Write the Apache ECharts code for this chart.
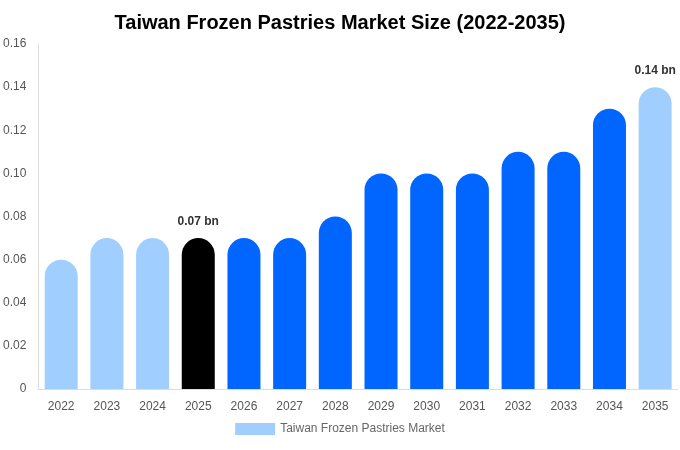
<!DOCTYPE html>
<html><head><meta charset="utf-8">
<script src="https://cdn.jsdelivr.net/npm/echarts@6/dist/echarts.min.js"></script>
<style>html,body{margin:0;padding:0}#c{width:680px;height:450px}</style>
</head><body><div id="c"></div>
<script>
const categories = ['2022','2023','2024','2025','2026','2027','2028','2029','2030','2031','2032','2033','2034','2035'];
const values = [0.06,0.07,0.07,0.07,0.07,0.07,0.08,0.10,0.10,0.10,0.11,0.11,0.13,0.14];
const colors = ['#a0cfff','#a0cfff','#a0cfff','#000000','#0066ff','#0066ff','#0066ff','#0066ff','#0066ff','#0066ff','#0066ff','#0066ff','#0066ff','#a0cfff'];
const labeled = [3,13];
const chart = echarts.init(document.getElementById('c'));
chart.setOption({
  title:{text:'Taiwan Frozen Pastries Market Size (2022-2035)',left:'center',top:8,textStyle:{fontFamily:'Liberation Sans, Arial',fontSize:20,fontWeight:'bold',color:'#000'}},
  legend:{bottom:10,itemWidth:40,itemHeight:12,textStyle:{color:'#666',fontSize:12,fontFamily:'Liberation Sans, Arial'},data:['Taiwan Frozen Pastries Market'],icon:'rect'},
  grid:{left:38,right:2,top:44,bottom:61},
  xAxis:{type:'category',data:categories,axisTick:{show:false},axisLine:{lineStyle:{color:'#ddd'}},axisLabel:{color:'#555',fontSize:12,margin:12,fontFamily:'Liberation Sans, Arial'}},
  yAxis:{type:'value',min:0,max:0.16,interval:0.02,axisLine:{show:true,lineStyle:{color:'#ddd'}},splitLine:{show:false},axisLabel:{color:'#555',fontSize:12,margin:12,fontFamily:'Liberation Sans, Arial',formatter:v=>v===0?'0':v.toFixed(2)}},
  series:[{name:'Taiwan Frozen Pastries Market',type:'bar',barWidth:33,itemStyle:{color:'#a0cfff'},
    data:values.map((v,i)=>({value:v,itemStyle:{color:colors[i],borderRadius:[17,17,0,0]},
      label:{show:labeled.includes(i),position:'top',distance:10,formatter:p=>p.value.toFixed(2)+' bn',fontWeight:'bold',color:'#333',fontSize:12,fontFamily:'Liberation Sans, Arial'}}))}]
});
</script></body></html>
